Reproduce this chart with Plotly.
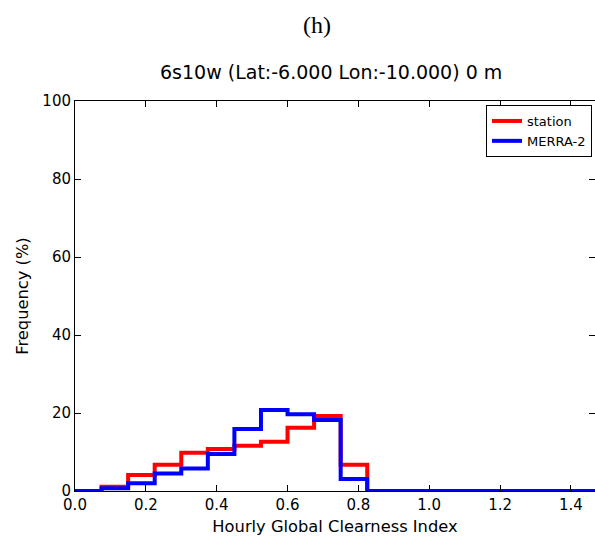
import plotly.graph_objects as go

bin_edges = [round(0.075 * i, 3) for i in range(21)]
station = [0, 1.1, 4.1, 6.7, 9.8, 10.8, 11.6, 12.6, 16.2, 19.2, 6.7, 0, 0, 0, 0, 0, 0, 0, 0, 0]
merra2 = [0, 0.7, 2.0, 4.5, 5.8, 9.5, 15.9, 20.8, 19.7, 18.2, 3.1, 0, 0, 0, 0, 0, 0, 0, 0, 0]

def step(vals):
    return bin_edges, list(vals) + [vals[-1]]

fig = go.Figure()
for name, vals, color in [("station", station, "#ff0000"), ("MERRA-2", merra2, "#0000ff")]:
    x, y = step(vals)
    fig.add_trace(go.Scatter(x=x, y=y, mode="lines", name=name,
                             line=dict(color=color, width=4, shape="hv")))

font = "DejaVu Sans, sans-serif"
L, T, B = 75, 101, 48
W, H = 595, 539
PW = W - L
PH = H - T - B

fig.update_layout(
    width=W, height=H,
    margin=dict(l=L, r=0, t=T, b=B, autoexpand=False),
    paper_bgcolor="white", plot_bgcolor="white",
    font=dict(family=font, size=15, color="black"),
    showlegend=True,
    legend=dict(x=(486 - 75) / PW, xanchor="left", y=1 - 4 / PH, yanchor="top",
                bgcolor="white", bordercolor="black", borderwidth=1,
                font=dict(family=font, size=13), tracegroupgap=0, itemwidth=30),
    annotations=[
        dict(text="(h)", xref="paper", yref="paper", x=(317 - 75) / PW, y=1 + (101 - 25) / PH,
             showarrow=False, font=dict(family="Liberation Serif, serif", size=24), yanchor="middle"),
        dict(text="6s10w (Lat:-6.000 Lon:-10.000) 0 m", xref="paper", yref="paper",
             x=(331 - 75) / PW, y=1 + (101 - 72) / PH,
             showarrow=False, font=dict(family=font, size=19), yanchor="middle"),
    ],
)

fig.update_xaxes(range=[0, 1.468], tickvals=[0, 0.2, 0.4, 0.6, 0.8, 1.0, 1.2, 1.4],
                 ticktext=["0.0", "0.2", "0.4", "0.6", "0.8", "1.0", "1.2", "1.4"],
                 tickfont=dict(family=font, size=15),
                 ticks="inside", ticklen=6, tickcolor="black", showgrid=False, zeroline=False,
                 showline=True, linecolor="black", linewidth=1, mirror="ticks",
                 title=dict(text="Hourly Global Clearness Index", standoff=7,
                            font=dict(family=font, size=16.3, color="black")))
fig.update_yaxes(range=[0, 100], tickvals=[0, 20, 40, 60, 80, 100],
                 tickfont=dict(family=font, size=15),
                 ticks="inside", ticklen=6, tickcolor="black", showgrid=False, zeroline=False,
                 showline=True, linecolor="black", linewidth=1, mirror="ticks",
                 title=dict(text="Frequency (%)", standoff=9,
                            font=dict(family=font, size=16.3, color="black")))

fig.write_html("out.html", config={"displayModeBar": False},
               post_script="document.body.style.margin='0';document.body.style.overflow='hidden';")
